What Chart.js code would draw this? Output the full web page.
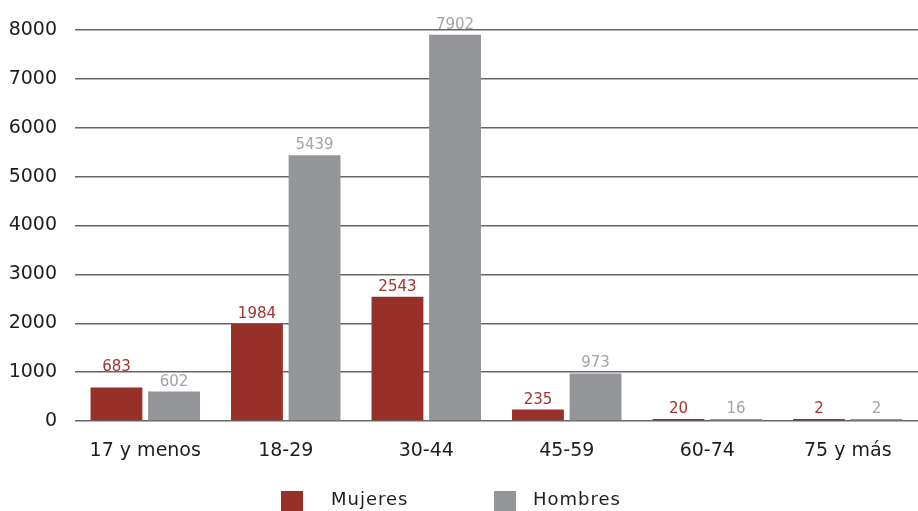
<!DOCTYPE html>
<html>
<head>
<meta charset="utf-8">
<script src="https://cdn.jsdelivr.net/npm/chart.js@4"></script>
<style>
  html, body { margin: 0; padding: 0; background: #fff; }
  #wrap { position: relative; width: 918px; height: 511px; overflow: hidden; }
  canvas { position: absolute; left: 0; top: 0; }
  .leg { position: absolute; top: 488px; font-family: "DejaVu Sans", sans-serif; font-size: 18px; letter-spacing: 1px; color: #1d1d1b; line-height: 22px; }
  .box { position: absolute; top: 491px; width: 22px; height: 20px; }
</style>
</head>
<body>
<div id="wrap">
  <canvas id="c" width="918" height="511"></canvas>
  <div class="box" style="left:281px;background:#98302a"></div>
  <div class="leg" style="left:331px">Mujeres</div>
  <div class="box" style="left:494px;background:#939598"></div>
  <div class="leg" style="left:533px">Hombres</div>
</div>
<script>
const categories = ["17 y menos", "18-29", "30-44", "45-59", "60-74", "75 y más"];
const mujeres = [683, 1984, 2543, 235, 20, 2];
const hombres = [602, 5439, 7902, 973, 16, 2];
const yTicks = [0, 1000, 2000, 3000, 4000, 5000, 6000, 7000, 8000];

const labelColors = ["#a3332d", "#a2a4a6"];

const valueLabels = {
  id: "valueLabels",
  afterDatasetsDraw(chart) {
    const ctx = chart.ctx;
    const yScale = chart.scales.y;
    const gridYs = yTicks.map(v => yScale.getPixelForValue(v));
    ctx.save();
    ctx.font = "15px 'DejaVu Sans', sans-serif";
    ctx.textAlign = "center";
    ctx.textBaseline = "alphabetic";
    chart.data.datasets.forEach((ds, i) => {
      const meta = chart.getDatasetMeta(i);
      ctx.fillStyle = labelColors[i];
      meta.data.forEach((bar, j) => {
        let base = bar.y - 6;
        const top = base - 11;
        // keep the label clear of a gridline: sit it on top of the line
        gridYs.forEach(g => {
          if (g > top - 1 && g < base + 1 && g < bar.y - 2) base = g - 1;
        });
        ctx.fillText(String(ds.data[j]), bar.x, base);
      });
    });
    ctx.restore();
  }
};

new Chart(document.getElementById("c"), {
  type: "bar",
  data: {
    labels: categories,
    datasets: [
      { label: "Mujeres", data: mujeres, backgroundColor: "#98302a", minBarLength: 2 },
      { label: "Hombres", data: hombres, backgroundColor: "#939598", minBarLength: 2 }
    ]
  },
  options: {
    responsive: false,
    animation: false,
    devicePixelRatio: 1,
    layout: { padding: { top: 30, right: 0, bottom: 40, left: 0 } },
    datasets: { bar: { categoryPercentage: 0.82, barPercentage: 0.9 } },
    plugins: { legend: { display: false }, tooltip: { enabled: false } },
    scales: {
      x: {
        grid: { display: false, drawTicks: false },
        border: { display: false },
        ticks: { color: "#1d1d1b", font: { family: "'DejaVu Sans', sans-serif", size: 19 }, padding: 19, maxRotation: 0 },
        afterFit(s) { s.height = 50; }
      },
      y: {
        min: 0, max: 8000,
        afterBuildTicks(s) { s.ticks = yTicks.map(v => ({ value: v })); },
        grid: { color: "#666666", lineWidth: 1.5, drawTicks: false },
        border: { display: false },
        ticks: { color: "#1d1d1b", font: { family: "'DejaVu Sans', sans-serif", size: 19 }, padding: 18, callback: v => String(v) },
        afterFit(s) { s.width = 75; }
      }
    }
  },
  plugins: [valueLabels]
});
</script>
</body>
</html>
